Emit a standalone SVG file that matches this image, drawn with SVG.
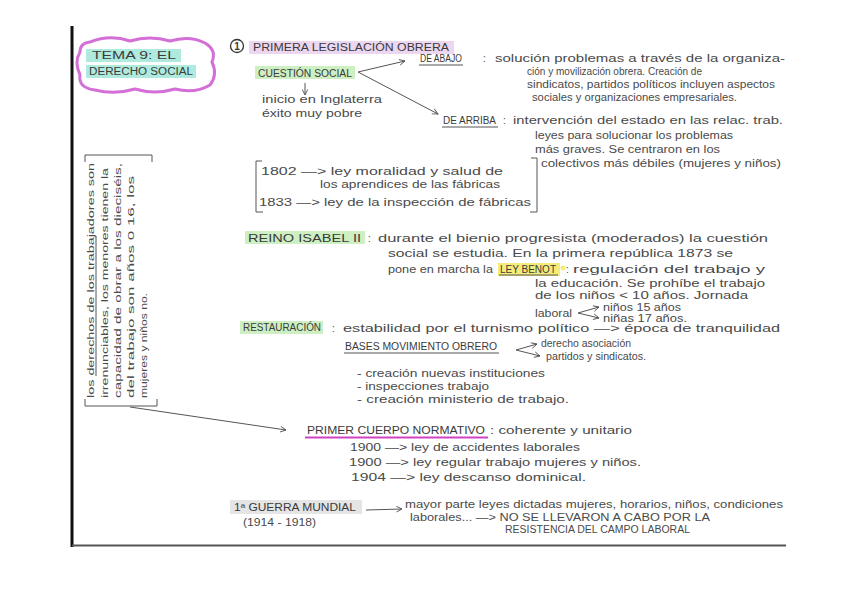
<svg xmlns="http://www.w3.org/2000/svg" width="848" height="599" viewBox="0 0 848 599">
<style>
  .t { font-family: "Liberation Sans", Arial, sans-serif; font-size: 10px; fill: #4a4a4a; }
  .h { font-family: "Liberation Sans", Arial, sans-serif; font-size: 10px; fill: #3a3a3a; }
  .r { font-family: "Liberation Sans", Arial, sans-serif; font-size: 9px; fill: #4a4a4a; }
  .ln { stroke: #555; stroke-width: 1; fill: none; }
  .ul { stroke: #555; stroke-width: 1; }
  .teal { fill: #aeeadd; }
  .lilac { fill: #ecd6f0; }
  .green { fill: #cdefc2; }
  .yellow { fill: #f4ec7a; }
  .grey { fill: #e5e5e5; }
</style>
<defs>
  <marker id="arr" viewBox="0 0 10 10" refX="9" refY="5" markerWidth="7" markerHeight="7" orient="auto" markerUnits="userSpaceOnUse">
    <path d="M1 1 L9 5 L1 9" fill="none" stroke="#555" stroke-width="1.3"/>
  </marker>
</defs>
<rect width="848" height="599" fill="#ffffff"/>
<g id="page">
  <line x1="72" y1="26" x2="72" y2="547" stroke="#111" stroke-width="3"/>
  <line x1="72" y1="545.5" x2="786" y2="545.5" stroke="#555" stroke-width="2"/>
</g>

<g id="title">
  <path d="M 90 42 Q 110 34 130 41 Q 150 35 170 41 Q 190 35 205 43 Q 217 50 212 62 Q 218 75 210 85 Q 195 94 175 89 Q 155 95 135 89 Q 115 95 95 90 Q 78 88 80 75 Q 74 62 80 52 Q 80 43 90 42 Z" fill="none" stroke="#d36fd6" stroke-width="3"/>
  <rect class="teal" x="86" y="49" width="95" height="13"/>
  <rect class="teal" x="86" y="65" width="110" height="13"/>
  <text class="h" x="92" y="59" textLength="84" lengthAdjust="spacingAndGlyphs">TEMA 9: EL</text>
  <text class="h" x="89" y="75" textLength="104" lengthAdjust="spacingAndGlyphs">DERECHO SOCIAL</text>
</g>

<g id="heading">
  <rect class="lilac" x="249" y="41" width="205" height="13"/>
  <circle cx="237" cy="46" r="6.5" fill="none" stroke="#333" stroke-width="1.3"/>
  <text class="h" x="237" y="50" text-anchor="middle" font-weight="bold" font-size="9">1</text>
  <text class="h" x="253" y="51" textLength="196" lengthAdjust="spacingAndGlyphs">PRIMERA LEGISLACIÓN OBRERA</text>
</g>

<g id="cuestion-social">
  <rect class="green" x="255" y="66" width="100" height="13"/>
  <text class="h" x="258" y="77" textLength="94" lengthAdjust="spacingAndGlyphs">CUESTIÓN SOCIAL</text>
  <text class="t" x="262" y="103" textLength="120" lengthAdjust="spacingAndGlyphs">inicio en Inglaterra</text>
  <text class="t" x="262" y="117" textLength="100" lengthAdjust="spacingAndGlyphs">éxito muy pobre</text>
</g>

<g id="de-abajo">
  <text class="h" x="420" y="62" textLength="42" lengthAdjust="spacingAndGlyphs">DE ABAJO</text>
  <line class="ul" x1="419" y1="65" x2="463" y2="65"/>
  <text class="t" x="483" y="62">:</text>
  <text class="t" x="495" y="62" textLength="290" lengthAdjust="spacingAndGlyphs">solución problemas a través de la organiza-</text>
  <text class="t" x="527" y="75" textLength="175" lengthAdjust="spacingAndGlyphs">ción y movilización obrera. Creación de</text>
  <text class="t" x="527" y="88" textLength="248" lengthAdjust="spacingAndGlyphs">sindicatos, partidos políticos incluyen aspectos</text>
  <text class="t" x="532" y="101" textLength="205" lengthAdjust="spacingAndGlyphs">sociales y organizaciones empresariales.</text>
</g>

<g id="de-arriba">
  <text class="h" x="443" y="124" textLength="53" lengthAdjust="spacingAndGlyphs">DE ARRIBA</text>
  <line class="ul" x1="442" y1="127" x2="498" y2="127"/>
  <text class="t" x="503" y="124">:</text>
  <text class="t" x="513" y="124" textLength="270" lengthAdjust="spacingAndGlyphs">intervención del estado en las relac. trab.</text>
  <text class="t" x="535" y="139" textLength="198" lengthAdjust="spacingAndGlyphs">leyes para solucionar los problemas</text>
  <text class="t" x="535" y="153" textLength="185" lengthAdjust="spacingAndGlyphs">más graves. Se centraron en los</text>
  <text class="t" x="541" y="167" textLength="240" lengthAdjust="spacingAndGlyphs">colectivos más débiles (mujeres y niños)</text>
</g>

<g id="leyes-1802-1833">
  <path class="ln" d="M 262 161 L 256 161 L 256 212 L 263 212"/>
  <path class="ln" d="M 531 158 L 537 158 L 537 212 L 530 212"/>
  <text class="t" x="261" y="175" textLength="242" lengthAdjust="spacingAndGlyphs">1802 —&gt; ley moralidad y salud de</text>
  <text class="t" x="320" y="188" textLength="180" lengthAdjust="spacingAndGlyphs">los aprendices de las fábricas</text>
  <text class="t" x="259" y="206" textLength="272" lengthAdjust="spacingAndGlyphs">1833 —&gt; ley de la inspección de fábricas</text>
</g>

<g id="reino-isabel">
  <rect class="green" x="245" y="231" width="120" height="13"/>
  <text class="h" x="248" y="242" textLength="113" lengthAdjust="spacingAndGlyphs">REINO ISABEL II</text>
  <text class="t" x="368" y="242">:</text>
  <text class="t" x="378" y="242" textLength="390" lengthAdjust="spacingAndGlyphs">durante el bienio progresista (moderados) la cuestión</text>
  <text class="t" x="388" y="257" textLength="345" lengthAdjust="spacingAndGlyphs">social se estudia. En la primera república 1873 se</text>
  <text class="t" x="388" y="273" textLength="105" lengthAdjust="spacingAndGlyphs">pone en marcha la</text>
  <rect class="yellow" x="498" y="263" width="62" height="13"/>
  <circle cx="563" cy="268" r="2.5" fill="#f4ec7a"/>
  <text class="h" x="500" y="273" textLength="56" lengthAdjust="spacingAndGlyphs">LEY BENOT</text>
  <line class="ul" x1="499" y1="275" x2="558" y2="275"/>
  <text class="t" x="566" y="273">:</text>
  <text class="t" x="573" y="273" textLength="192" lengthAdjust="spacingAndGlyphs">regulación del trabajo y</text>
  <text class="t" x="535" y="287" textLength="230" lengthAdjust="spacingAndGlyphs">la educación. Se prohíbe el trabajo</text>
  <text class="t" x="535" y="299" textLength="213" lengthAdjust="spacingAndGlyphs">de los niños &lt; 10 años. Jornada</text>
  <text class="t" x="535" y="317" textLength="37" lengthAdjust="spacingAndGlyphs">laboral</text>
  <text class="t" x="603" y="311" textLength="78" lengthAdjust="spacingAndGlyphs">niños 15 años</text>
  <text class="t" x="603" y="322" textLength="84" lengthAdjust="spacingAndGlyphs">niñas 17 años.</text>
</g>

<g id="restauracion">
  <rect class="green" x="240" y="321" width="83" height="13"/>
  <text class="h" x="243" y="331" textLength="78" lengthAdjust="spacingAndGlyphs" font-size="9">RESTAURACIÓN</text>
  <text class="t" x="332" y="332">:</text>
  <text class="t" x="343" y="332" textLength="437" lengthAdjust="spacingAndGlyphs">estabilidad por el turnismo político —&gt; época de tranquilidad</text>
  <text class="h" x="345" y="350" textLength="152" lengthAdjust="spacingAndGlyphs">BASES MOVIMIENTO OBRERO</text>
  <line class="ul" x1="344" y1="353" x2="499" y2="353"/>
  <text class="t" x="541" y="347" textLength="90" lengthAdjust="spacingAndGlyphs">derecho asociación</text>
  <text class="t" x="546" y="360" textLength="100" lengthAdjust="spacingAndGlyphs">partidos y sindicatos.</text>
  <text class="t" x="357" y="377" textLength="188" lengthAdjust="spacingAndGlyphs">- creación nuevas instituciones</text>
  <text class="t" x="357" y="390" textLength="132" lengthAdjust="spacingAndGlyphs">- inspecciones trabajo</text>
  <text class="t" x="357" y="403" textLength="212" lengthAdjust="spacingAndGlyphs">- creación ministerio de trabajo.</text>
</g>

<g id="primer-cuerpo">
  <text class="h" x="307" y="434" textLength="178" lengthAdjust="spacingAndGlyphs">PRIMER CUERPO NORMATIVO</text>
  <line x1="305" y1="437.5" x2="488" y2="437.5" stroke="#d044c4" stroke-width="1.8"/>
  <text class="t" x="490" y="434" textLength="142" lengthAdjust="spacingAndGlyphs">: coherente y unitario</text>
  <text class="t" x="350" y="451" textLength="230" lengthAdjust="spacingAndGlyphs">1900 —&gt; ley de accidentes laborales</text>
  <text class="t" x="349" y="466" textLength="292" lengthAdjust="spacingAndGlyphs">1900 —&gt; ley regular trabajo mujeres y niños.</text>
  <text class="t" x="351" y="481" textLength="235" lengthAdjust="spacingAndGlyphs">1904 —&gt; ley descanso dominical.</text>
</g>

<g id="guerra-mundial">
  <rect class="grey" x="230" y="500" width="132" height="14"/>
  <text class="h" x="234" y="511" textLength="122" lengthAdjust="spacingAndGlyphs">1ª GUERRA MUNDIAL</text>
  <text class="t" x="243" y="526" textLength="73" lengthAdjust="spacingAndGlyphs">(1914 - 1918)</text>
  <text class="t" x="405" y="508" textLength="378" lengthAdjust="spacingAndGlyphs">mayor parte leyes dictadas mujeres, horarios, niños, condiciones</text>
  <text class="t" x="410" y="521" textLength="300" lengthAdjust="spacingAndGlyphs">laborales... —&gt; NO SE LLEVARON A CABO POR LA</text>
  <text class="t" x="505" y="533" textLength="185" lengthAdjust="spacingAndGlyphs">RESISTENCIA DEL CAMPO LABORAL</text>
</g>

<g id="nota-lateral">
  <path class="ln" d="M 85 162 L 85 155 L 152 155 L 152 162"/>
  <path class="ln" d="M 85 399 L 85 406 L 157 406 L 157 399"/>
  <text class="r" transform="translate(94,398) rotate(-90)" textLength="235" lengthAdjust="spacingAndGlyphs">los derechos de los trabajadores son</text>
  <line class="ul" x1="96" y1="376" x2="96" y2="236"/>
  <text class="r" transform="translate(108,398) rotate(-90)" textLength="230" lengthAdjust="spacingAndGlyphs">irrenunciables, los menores tienen la</text>
  <text class="r" transform="translate(121,398) rotate(-90)" textLength="235" lengthAdjust="spacingAndGlyphs">capacidad de obrar a los dieciséis,</text>
  <text class="r" transform="translate(134,398) rotate(-90)" textLength="222" lengthAdjust="spacingAndGlyphs">del trabajo son años 0 16, los</text>
  <text class="r" transform="translate(147,398) rotate(-90)" textLength="105" lengthAdjust="spacingAndGlyphs">mujeres y niños no.</text>
</g>

<g id="connectors">
  <line class="ln" x1="358" y1="72" x2="405" y2="61" marker-end="url(#arr)"/>
  <line class="ln" x1="358" y1="72" x2="438" y2="114" marker-end="url(#arr)"/>
  <line class="ln" x1="305" y1="83" x2="305" y2="95" marker-end="url(#arr)"/>
  <line class="ln" x1="130" y1="407" x2="286" y2="430" marker-end="url(#arr)"/>
  <line class="ln" x1="366" y1="510" x2="402" y2="509" marker-end="url(#arr)"/>
  <line class="ln" x1="578" y1="313" x2="599" y2="307" marker-end="url(#arr)"/>
  <line class="ln" x1="578" y1="313" x2="599" y2="318" marker-end="url(#arr)"/>
  <line class="ln" x1="516" y1="350" x2="537" y2="344" marker-end="url(#arr)"/>
  <line class="ln" x1="516" y1="350" x2="540" y2="356" marker-end="url(#arr)"/>
</g>
</svg>
